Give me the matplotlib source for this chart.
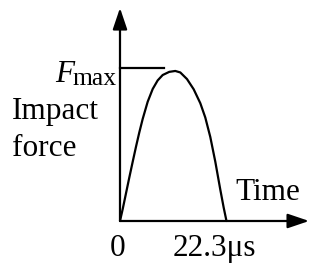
import matplotlib
matplotlib.use("Agg")
import matplotlib.pyplot as plt

# Data (time in microseconds, force normalised to Fmax)
time_us = [0.0, 0.57, 1.26, 1.95, 2.66, 3.35, 4.04, 4.75, 5.80, 6.85, 7.89,
           8.94, 10.32, 11.58, 12.63, 14.03, 15.43, 16.82, 17.86, 18.91,
           19.96, 21.00, 21.71, 22.3]
force = [0.0, 0.08, 0.185, 0.29, 0.395, 0.495, 0.59, 0.68, 0.795, 0.88,
         0.937, 0.973, 0.994, 1.0, 0.99, 0.946, 0.878, 0.785, 0.69, 0.56,
         0.395, 0.21, 0.09, 0.0]
fmax_level = 1.018
fmax_line_end = 9.2
x_axis_end = 39.6
y_axis_end = 1.42
tick_labels = ["0", "22.3\u03bcs"]

FONT = "Liberation Serif"
fig = plt.figure(figsize=(3.11, 2.63), dpi=100)
ax = fig.add_axes([0, 0, 1, 1])
ax.set_xlim(-25.13, 40.0)
ax.set_ylim(-0.28, 1.473)
ax.axis("off")

lw = 1.6
# axes arrows
arrow_kw = dict(arrowstyle="-|>,head_length=0.65,head_width=0.22",
                mutation_scale=20, lw=lw, color="black",
                shrinkA=0, shrinkB=0)
ax.annotate("", xy=(0, y_axis_end), xytext=(0, 0), arrowprops=arrow_kw,
            annotation_clip=False)
ax.annotate("", xy=(x_axis_end, 0), xytext=(0, 0), arrowprops=arrow_kw,
            annotation_clip=False)

# curve
ax.plot(time_us, force, color="black", lw=lw, solid_joinstyle="round",
        solid_capstyle="round")
# Fmax level line
ax.plot([0, fmax_line_end], [fmax_level, fmax_level], color="black", lw=lw)

fs = 22.5
ax.text(-13.6, 0.927, "F", fontsize=fs, family=FONT, style="italic",
        va="baseline", ha="left")
ax.text(-10.05, 0.907, "max", fontsize=fs * 0.82, family=FONT,
        va="baseline", ha="left")
ax.text(-22.6, 0.68, "Impact", fontsize=fs, family=FONT, va="baseline", ha="left")
ax.text(-22.6, 0.433, "force", fontsize=fs, family=FONT, va="baseline", ha="left")
ax.text(24.1, 0.14, "Time", fontsize=fs, family=FONT, va="baseline", ha="left")
ax.text(-0.42, -0.235, tick_labels[0], fontsize=fs, family=FONT,
        va="baseline", ha="center")
ax.text(11.1, -0.235, tick_labels[1], fontsize=fs, family=FONT,
        va="baseline", ha="left")

fig.savefig("out.png", dpi=100)
